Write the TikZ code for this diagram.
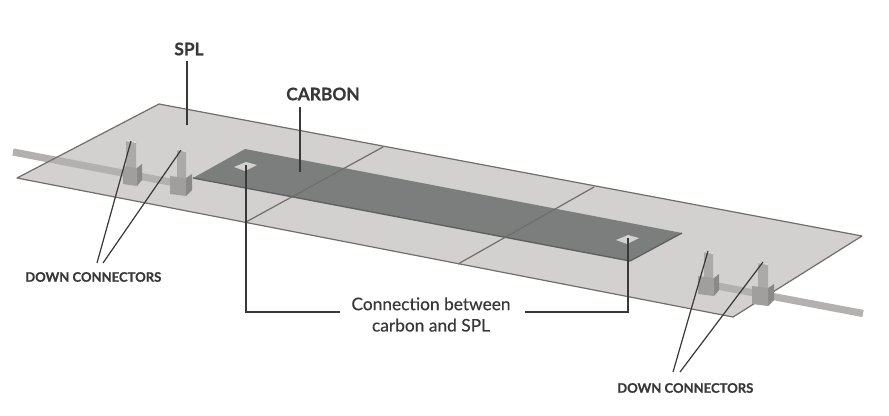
\documentclass[tikz,border=0pt]{standalone}
\usepackage{fontspec}
\setmainfont{Lato}
\newfontfamily\midfont[FakeBold=0.35]{Lato}
\newfontfamily\labfont[FakeBold=0.5]{Lato Bold}
\definecolor{plate}{HTML}{D2D1CF}
\definecolor{edge}{HTML}{716E6A}
\definecolor{carbon}{HTML}{7B7E7C}
\definecolor{carbonedge}{HTML}{5E605F}
\definecolor{barc}{HTML}{B2B1AF}
\definecolor{towerc}{HTML}{ABAAA8}
\definecolor{frontc}{HTML}{A09F9D}
\definecolor{sidec}{HTML}{8A8987}
\definecolor{ink}{HTML}{383838}
\tikzset{
  leader/.style={draw=ink,line width=0.9pt},
  lab/.style={text=ink,inner sep=0pt,font=\labfont\fontsize{13}{15}\selectfont},
  smalllab/.style={text=ink,inner sep=0pt,font=\labfont\fontsize{9.8}{11}\selectfont},
  midlab/.style={text=ink,inner sep=0pt,align=center,font=\midfont\fontsize{13}{16}\selectfont},
  lineedge/.style={draw=edge,line width=0.9pt}
}
\newcommand{\dconn}[7]{%
  \fill[towerc] (#1,#3) -- (#2,#3+2) -- (#2,#3+32) -- (#1,#3+30) -- cycle;
  \fill[plate!80!white] (#1,#3) -- (#2,#3+2) -- (#2,#3+4) -- (#1,#3+2) -- cycle;
  \fill[sidec] (#5,#7+1) -- (#6,#7-3) -- (#6,#7+13) -- (#5,#7+19) -- cycle;
  \fill[frontc] (#4,#7-1) -- (#5,#7+1) -- (#5,#7+19) -- (#4,#7+17) -- cycle;
}
\begin{document}
\begin{tikzpicture}[x=0.75pt,y=-0.75pt]
\useasboundingbox (0,0) rectangle (889,415);
\fill[white] (0,0) rectangle (889,415);
% plate
\coordinate (p1) at (159,104);
\coordinate (p2) at (862,236);
\coordinate (p3) at (733,317);
\coordinate (p4) at (17,178);
\fill[plate] (p1) -- (p2) -- (p3) -- (p4) -- cycle;
% bar
\coordinate (barA) at (13,152);
\coordinate (barB) at (175,183);
\coordinate (barC) at (712,285);
\coordinate (barD) at (863,313.5);
\draw[barc,line width=5.4pt] (barA) -- (barB);
\draw[barc,line width=5.4pt] (barC) -- (barD);
\draw[edge,line width=0.9pt,line join=round] (p1) -- (p2) -- (p3) -- (p4) -- cycle;
% carbon
\fill[carbon] (245,149) -- (682,233) -- (630,261) -- (193,178) -- cycle;
\draw[carbonedge,line width=1pt] (682,233) -- (630,261) -- (193,178);
\fill[plate] (234,167) -- (246,162) -- (257,165) -- (245,171) -- cycle;
\fill[plate] (616,240) -- (628,235) -- (639,238) -- (627,244) -- cycle;
% band lines
\coordinate (b1) at (383,147);
\coordinate (b2) at (246,222);
\coordinate (b3) at (594,187);
\coordinate (b4) at (458,264);
\draw[lineedge] (b1) -- (b2);
\draw[lineedge] (b3) -- (b4);
% connectors
\dconn{126}{136}{139}{123}{137}{142}{167}
\dconn{177}{186}{148}{170}{186}{192}{177}
\dconn{704}{713}{250}{698}{714}{719}{277}
\dconn{758}{768}{261}{752}{768}{774}{287}
% labels
\node[lab] (spl) at (189,49) {SPL};
\node[lab] (carb) at (323,94) {CARBON};
\node[smalllab,anchor=west] (dcl) at (25,277) {DOWN CONNECTORS};
\node[smalllab,anchor=west] (dcr) at (617,388) {DOWN CONNECTORS};
\node[midlab] (conn) at (431,314.5) {Connection between\\carbon and SPL};
% leaders
\coordinate (splE) at (187,125);
\coordinate (carbE) at (300,172);
\draw[leader] (187,61) -- (splE);
\draw[leader] (300,107) -- (carbE);
\coordinate (l1) at (131,141);
\coordinate (l2) at (181,150);
\coordinate (r1) at (708,251);
\coordinate (r2) at (763,262);
\draw[leader] (l1) -- (97,263);
\draw[leader] (l2) -- (103,263);
\draw[leader] (r1) -- (673,372);
\draw[leader] (r2) -- (680,372);
\coordinate (c1) at (246,165);
\coordinate (c2) at (628,238);
\draw[leader] (c1) -- (246,312) -- (340,312);
\draw[leader] (c2) -- (628,312) -- (525,312);
\end{tikzpicture}
\end{document}
